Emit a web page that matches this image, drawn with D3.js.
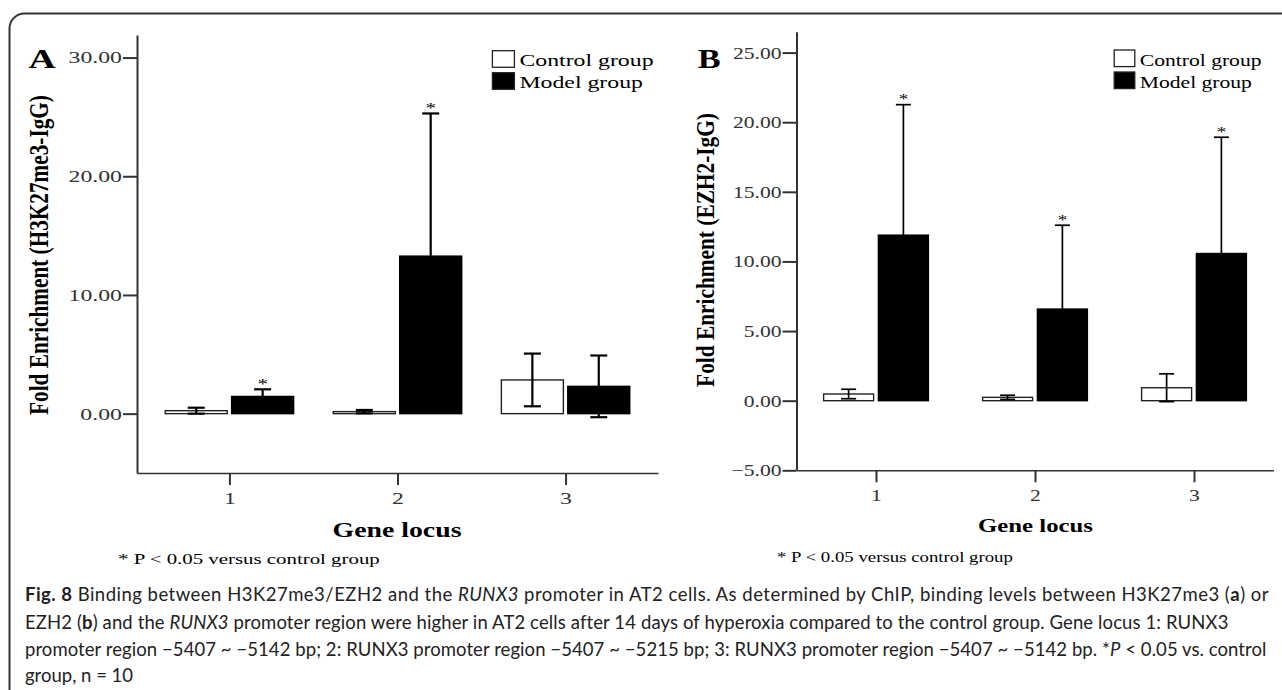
<!DOCTYPE html>
<html>
<head>
<meta charset="utf-8">
<script src="https://cdn.jsdelivr.net/npm/d3@7"></script>
<style>
html, body { margin: 0; padding: 0; background: #fff; }
svg { display: block; }
</style>
</head>
<body>
<script>
// gene loci on the x axis, and the two groups
const loci = [1, 2, 3];
const groups = ["Control group", "Model group"];

// panel A : Fold Enrichment (H3K27me3-IgG), mean and error per locus
const aControl = [0.25, 0.17, 2.84];
const aControlErr = [0.25, 0.14, 2.22];
const aModel = [1.45, 13.27, 2.30];
const aModelErr = [0.60, 12.02, 2.60];
const aStars = [1, 2];            // loci with * over the model bar
const aTicks = [0, 10, 20, 30];

// panel B : Fold Enrichment (EZH2-IgG)
const bControl = [0.48, 0.24, 0.93];
const bControlErr = [0.34, 0.15, 1.00];
const bModel = [11.89, 6.58, 10.57];
const bModelErr = [9.37, 6.02, 8.35];
const bStars = [1, 2, 3];
const bTicks = [-5, 0, 5, 10, 15, 20, 25];

const noteText = "* P < 0.05  versus control group";

// caption, one array per printed line: [text, style]
const captionLines = [
  [["Fig. 8", "b"], [" Binding between H3K27me3/EZH2 and the ", ""], ["RUNX3", "i"],
   [" promoter in AT2 cells. As determined by ChIP, binding levels between H3K27me3 (", ""], ["a", "b"], [") or", ""]],
  [["EZH2 (", ""], ["b", "b"], [") and the ", ""], ["RUNX3", "i"],
   [" promoter region were higher in AT2 cells after 14 days of hyperoxia compared to the control group. Gene locus 1: RUNX3", ""]],
  [["promoter region \u22125407 ~ \u22125142 bp; 2: RUNX3 promoter region \u22125407 ~ \u22125215 bp; 3: RUNX3 promoter region \u22125407 ~ \u22125142 bp. *", ""],
   ["P", "i"], [" < 0.05 vs. control", ""]],
  [["group, n = 10", ""]]
];

const SERIF = "'Liberation Serif', 'Times New Roman', serif";
const W = 1282, H = 690;

const svg = d3.select("body").append("svg")
  .attr("width", W).attr("height", H);

// rounded frame (right and bottom run off the page)
svg.append("rect")
  .attr("x", 9.5).attr("y", 13.5).attr("width", 1400).attr("height", 800)
  .attr("rx", 15).attr("fill", "none").attr("stroke", "#333").attr("stroke-width", 2);

// text in a group so it can be stretched like the scanned figure
function label(parent, x, y, txt, o = {}) {
  const g = parent.append("g");
  const t = g.append("text")
    .attr("text-anchor", o.anchor || "start")
    .attr("font-family", o.font || SERIF)
    .attr("font-size", o.size || 17)
    .attr("font-weight", o.weight || "normal")
    .attr("fill", o.fill || "#000")
    .text(txt);
  let sx = o.kx || 1, sy = o.ky || 1;
  if (o.width) {
    const w = t.node().getComputedTextLength();
    sx = o.width / w;
  }
  g.attr("transform", `translate(${x},${y}) rotate(${o.rot || 0}) scale(${sx},${sy})`);
  return t;
}

function panel(p) {
  const g = svg.append("g");
  const x = p.x, y = p.y;

  const bars = [];
  loci.forEach((l, i) => {
    bars.push({ l, k: 0, v: p.control[i], e: p.controlErr[i],
      x0: x(l - p.hg - p.bw), x1: x(l - p.hg) });
    bars.push({ l, k: 1, v: p.model[i], e: p.modelErr[i],
      x0: x(l + p.hg), x1: x(l + p.hg + p.bw) });
  });

  g.append("g").selectAll("rect")
    .data(bars).join("rect")
    .attr("x", d => d.x0)
    .attr("width", d => d.x1 - d.x0)
    .attr("y", d => y(Math.max(0, d.v)))
    .attr("height", d => Math.abs(y(0) - y(d.v)))
    .attr("fill", d => d.k ? "#000" : "#fff")
    .attr("stroke", d => d.k ? "#000" : "#222")
    .attr("stroke-width", 1.4);

  // error bars
  const eg = g.append("g").attr("stroke", "#000").attr("stroke-width", p.ew).attr("fill", "none");
  bars.forEach(d => {
    const cx = (d.x0 + d.x1) / 2, lo = y(d.v - d.e), hi = y(d.v + d.e);
    eg.append("line").attr("x1", cx).attr("x2", cx).attr("y1", lo).attr("y2", hi);
    [lo, hi].forEach(yy => eg.append("line")
      .attr("x1", cx - p.cap / 2).attr("x2", cx + p.cap / 2).attr("y1", yy).attr("y2", yy));
  });

  // significance stars
  bars.filter(d => d.k === 1 && p.stars.includes(d.l)).forEach(d => {
    label(g, (d.x0 + d.x1) / 2, y(d.v + d.e) - 0.5, "*", { anchor: "middle", size: 15, kx: p.kx });
  });

  // y axis
  const gy = g.append("g")
    .attr("transform", `translate(${x.range()[0]},0)`)
    .call(d3.axisLeft(y).tickValues(p.ticks).tickFormat(d3.format(".2f"))
      .tickSize(14).tickPadding(1).tickSizeOuter(0));
  gy.select(".domain").attr("stroke", "#333").attr("stroke-width", 2);
  gy.selectAll(".tick line").attr("stroke", "#333").attr("stroke-width", 2);
  gy.selectAll(".tick text")
    .attr("font-family", SERIF).attr("font-size", 17).attr("fill", "#333")
    .attr("transform", function () {
      const x0 = +this.getAttribute("x");
      return `translate(${x0},0) scale(${p.kx},1) translate(${-x0},0)`;
    });

  // x axis
  const gx = g.append("g")
    .attr("transform", `translate(0,${y(y.domain()[0])})`)
    .call(d3.axisBottom(x).tickValues(loci).tickFormat(d3.format("d"))
      .tickSize(12).tickPadding(p.xpad).tickSizeOuter(0));
  gx.select(".domain").attr("stroke", "#333").attr("stroke-width", 1.6);
  gx.selectAll(".tick line").attr("stroke", "#333").attr("stroke-width", 2);
  gx.selectAll(".tick text")
    .attr("font-family", SERIF).attr("font-size", 17).attr("fill", "#333")
    .attr("transform", `scale(${p.kx},1)`);

  // panel letter
  label(g, p.letter[0], p.letter[1], p.name, { size: 27, weight: "bold", kx: p.kx });

  // y title
  label(g, p.title[0], p.title[1], p.yTitle,
    { anchor: "middle", size: 19, weight: "bold", rot: -90, width: p.title[2], ky: p.kx });

  // x title
  label(g, p.xTitle[0], p.xTitle[1], "Gene locus",
    { anchor: "middle", size: p.xTitle[3], weight: "bold", width: p.xTitle[2] });

  // note
  label(g, p.note[0], p.note[1], noteText, { size: 15, width: p.note[2] });

  // legend
  groups.forEach((name, i) => {
    g.append("rect")
      .attr("x", p.legend[0]).attr("y", p.legend[1] + i * 22)
      .attr("width", p.legend[2]).attr("height", 16.6)
      .attr("fill", i ? "#000" : "#fff").attr("stroke", "#222").attr("stroke-width", 1.3);
    label(g, p.legend[0] + p.legend[2] + 5, p.legend[1] + 15.5 + i * 22, name,
      { size: 17, kx: p.kx });
  });
}

panel({
  name: "A", yTitle: "Fold Enrichment (H3K27me3-IgG)",
  x: d3.scaleLinear([0.45, 3.55], [137, 658]),
  y: d3.scaleLinear([-5, 31.9], [473, 35]),
  control: aControl, controlErr: aControlErr, model: aModel, modelErr: aModelErr,
  stars: aStars, ticks: aTicks,
  bw: 0.369, hg: 0.013, cap: 17, ew: 2.2, kx: 1.4, xpad: 6.5,
  letter: [28.5, 67.7], title: [48.4, 255, 320], xTitle: [397, 537, 129, 20],
  note: [118, 564, 262], legend: [492.4, 50.7, 22]
});

panel({
  name: "B", yTitle: "Fold Enrichment (EZH2-IgG)",
  x: d3.scaleLinear([0.5, 3.5], [796.5, 1273.5]),
  y: d3.scaleLinear([-5, 26.5], [470.3, 31.7]),
  control: bControl, controlErr: bControlErr, model: bModel, modelErr: bModelErr,
  stars: bStars, ticks: bTicks,
  bw: 0.3145, hg: 0.015, cap: 15, ew: 1.7, kx: 1.27, xpad: 6.5,
  letter: [697.7, 67.7], title: [713.5, 250, 274], xTitle: [1035.5, 532, 115, 18.6],
  note: [777, 562, 236], legend: [1114.2, 50, 20.6]
});

// caption
const capBase = [601, 628.5, 656, 682];
const capEnd = [1269, 1228, 1266.5, null];
captionLines.forEach((segs, i) => {
  const t = svg.append("text")
    .attr("x", 25).attr("y", capBase[i])
    .attr("font-family", "Lato, 'Open Sans', sans-serif")
    .attr("font-size", 18.5).attr("fill", "#222");
  segs.forEach(([s, st]) => {
    t.append("tspan")
      .attr("font-weight", st === "b" ? "bold" : null)
      .attr("font-style", st === "i" ? "italic" : null)
      .text(s);
  });
  if (capEnd[i]) {
    const w = t.node().getComputedTextLength();
    const n = segs.map(d => d[0]).join("").length;
    t.attr("letter-spacing", ((capEnd[i] - 25) - w) / n);
  }
});
</script>
</body>
</html>
